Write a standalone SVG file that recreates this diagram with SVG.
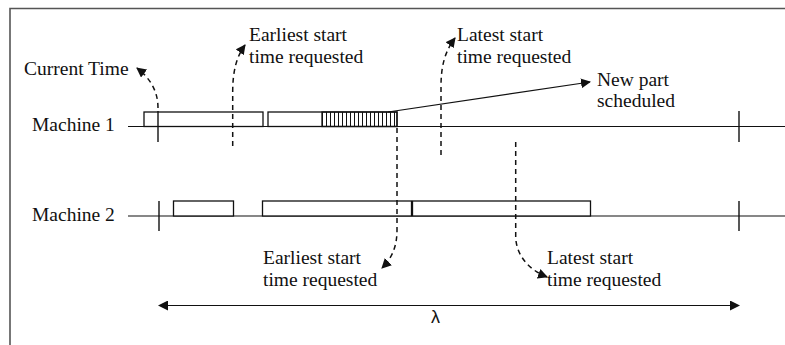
<svg xmlns="http://www.w3.org/2000/svg" width="785" height="345" viewBox="0 0 785 345">
  <style>
    .lbl { font-family: "Liberation Serif", Tinos, "Times New Roman", "DejaVu Serif", serif; font-size: 19.5px; fill: #111; }
    .lam { font-family: "Liberation Sans", Arial, sans-serif; font-size: 18px; fill: #111; }
    .axis { stroke: #111; stroke-width: 1.2; fill: none; }
    .tick { stroke: #111; stroke-width: 1.4; fill: none; }
    .job { stroke: #111; stroke-width: 1.3; fill: #fff; }
    .dash { stroke: #111; stroke-width: 1.5; fill: none; stroke-dasharray: 5 4; }
    .arrow { stroke: #111; stroke-width: 1.2; fill: none; }
    .frame { stroke: #555; stroke-width: 1.6; fill: none; }
  </style>
  <defs>
    <marker id="head" viewBox="0 0 10 10" refX="9" refY="5" markerWidth="10" markerHeight="10" markerUnits="userSpaceOnUse" orient="auto">
      <path d="M0,0 L10,5 L0,10 Z" fill="#111"/>
    </marker>
    <marker id="headStart" viewBox="0 0 10 10" refX="1" refY="5" markerWidth="10" markerHeight="10" markerUnits="userSpaceOnUse" orient="auto">
      <path d="M10,0 L0,5 L10,10 Z" fill="#111"/>
    </marker>
    <pattern id="hatch" x="322" y="0" width="4" height="20" patternUnits="userSpaceOnUse">
      <line x1="0.5" y1="0" x2="0.5" y2="20" stroke="#111" stroke-width="1"/>
    </pattern>
  </defs>

  <rect width="785" height="345" fill="#fff"/>
  <path class="frame" d="M10,345 V8.5 H785"/>

  <!-- Machine 1 timeline -->
  <g id="machine1">
    <text class="lbl" x="32" y="131">Machine 1</text>
    <line class="axis" x1="128" y1="126.5" x2="785" y2="126.5"/>
    <rect class="job" x="144" y="112" width="119" height="14.5"/>
    <rect class="job" x="268" y="112" width="129" height="14.5"/>
    <rect x="322" y="112" width="75" height="14.5" fill="url(#hatch)" stroke="#111" stroke-width="1.3"/>
    <line class="tick" x1="158" y1="111" x2="158" y2="142"/>
    <line class="tick" x1="739" y1="111" x2="739" y2="142"/>
  </g>

  <!-- Machine 2 timeline -->
  <g id="machine2">
    <text class="lbl" x="32" y="221">Machine 2</text>
    <line class="axis" x1="128" y1="216" x2="785" y2="216"/>
    <rect class="job" x="173.5" y="201" width="60" height="15"/>
    <rect class="job" x="262.5" y="201" width="149" height="15"/>
    <rect class="job" x="412.5" y="201" width="178" height="15"/>
    <line class="tick" x1="159" y1="201" x2="159" y2="231"/>
    <line class="tick" x1="739" y1="201" x2="739" y2="231"/>
  </g>

  <!-- Labels -->
  <g id="current-time" class="lbl">
    <text x="24" y="75">Current Time</text>
  </g>
  <g id="earliest-top" class="lbl">
    <text x="249" y="41">Earliest start</text>
    <text x="249" y="63">time requested</text>
  </g>
  <g id="latest-top" class="lbl">
    <text x="457" y="41">Latest start</text>
    <text x="457" y="63">time requested</text>
  </g>
  <g id="new-part" class="lbl">
    <text x="597" y="86">New part</text>
    <text x="597" y="107">scheduled</text>
  </g>
  <g id="earliest-bottom" class="lbl">
    <text x="263" y="264">Earliest start</text>
    <text x="263" y="286">time requested</text>
  </g>
  <g id="latest-bottom" class="lbl">
    <text x="547" y="264">Latest start</text>
    <text x="547" y="286">time requested</text>
  </g>
  <g id="horizon">
    <text class="lam" x="431" y="323">λ</text>
  </g>

  <!-- Connectors -->
  <g id="connectors">
    <path class="dash" marker-end="url(#head)" d="M158,108 C158,92 151,79 137,68"/>
    <path class="dash" marker-end="url(#head)" d="M232.7,146 V92 C232.7,70 237,56 245,45"/>
    <path class="dash" marker-end="url(#head)" d="M441,155 V86 C441,64 446,50 455,38"/>
    <path class="dash" marker-end="url(#head)" d="M397,128 V230 C397,248 391,259 382,268"/>
    <path class="dash" marker-end="url(#head)" d="M515.7,142 V236 C515.7,255 529,270 547,277"/>
    <line class="arrow" marker-end="url(#head)" x1="388" y1="112" x2="590" y2="82"/>
    <line class="arrow" marker-start="url(#headStart)" marker-end="url(#head)" x1="159" y1="305.5" x2="739" y2="305.5"/>
  </g>
</svg>
